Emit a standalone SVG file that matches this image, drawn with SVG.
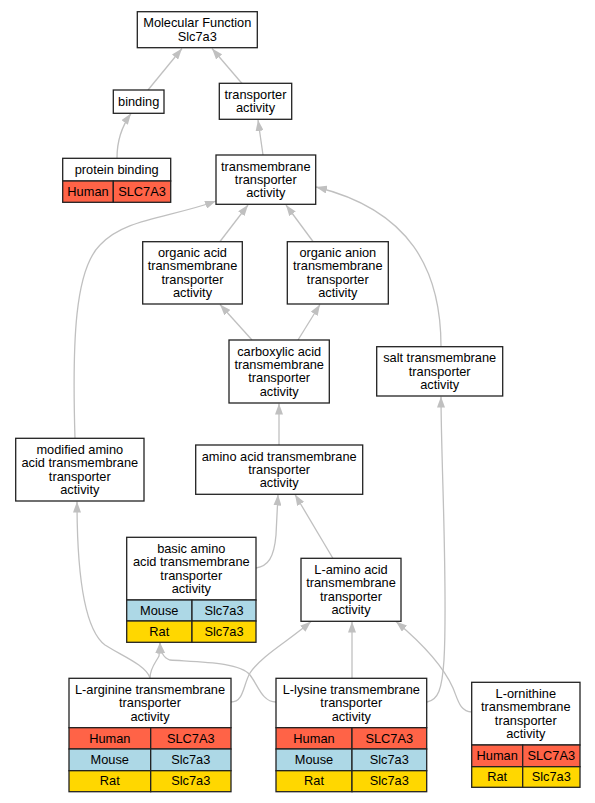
<svg xmlns="http://www.w3.org/2000/svg" width="595" height="803" viewBox="0 0 595 803">
<style>
.n{fill:#fff;stroke:#222;stroke-width:1.3}
.hu{fill:#ff6347;stroke:#222;stroke-width:1.3}
.mo{fill:#add8e6;stroke:#222;stroke-width:1.3}
.ra{fill:#ffd700;stroke:#222;stroke-width:1.3}
text{font-family:"Liberation Sans",Arial,sans-serif;font-size:12.8px;fill:#000;text-anchor:middle}
.e{fill:none;stroke:#c0c0c0;stroke-width:1.3;marker-end:url(#ah)}
</style>
<defs>
<marker id="ah" markerUnits="userSpaceOnUse" markerWidth="11" markerHeight="8" refX="11" refY="4" orient="auto" viewBox="0 0 11 8">
<path d="M0,0 L11,4 L0,8 z" fill="#c0c0c0"/>
</marker>
</defs>
<rect width="595" height="803" fill="#fff"/>
<g id="edges">
<path class="e" d="M148,90 L182,48.5"/>
<path class="e" d="M242,83.5 L212,48.5"/>
<path class="e" d="M117,158 C117,140 122,126 131,113.5"/>
<path class="e" d="M263,155 L258,120"/>
<path class="e" d="M220,241.5 L248,205"/>
<path class="e" d="M313,241.5 L286,205"/>
<path class="e" d="M252,340 L220,304.5"/>
<path class="e" d="M298,340 L320,304.5"/>
<path class="e" d="M441,346.5 C441,270 410,210 316,187"/>
<path class="e" d="M75,438.5 C72,340 75,270 100,245 C125,218 170,218 216,201"/>
<path class="e" d="M279,445 L279,403.5"/>
<path class="e" d="M256,568 C268,566 274,558 276,535 L278,494.5"/>
<path class="e" d="M333,558.5 L295,494.5"/>
<path class="e" d="M427,702 C438,700 442,690 444,660 C448,590 441,460 441,396.5"/>
<path class="e" d="M472,712 C460,712 458,700 453,688 C445,670 430,650 396,621.5"/>
<path class="e" d="M352,678.3 L352,621.5"/>
<path class="e" d="M231,702 C244,702 243,685 250,673 C262,655 290,640 311,621.5"/>
<path class="e" d="M150,678 C150,668 156,662 159,656 L160,642.5"/>
<path class="e" d="M276,702 C262,702 258,685 250,675 C240,662 200,662 170,660 C163,658 161,652 160,642.5"/>
<path class="e" d="M150,678 C146,665 120,655 105,645 C85,630 77,580 77,501.5"/>
</g>
<g id="mf">
<rect class="n" x="137.3" y="11.7" width="120" height="36"/>
<text x="197.3" y="27.25">Molecular Function</text>
<text x="197.3" y="40.55">Slc7a3</text>
</g>
<g id="binding">
<rect class="n" x="113.3" y="90" width="50.7" height="23.3"/>
<text x="138.7" y="105.9">binding</text>
</g>
<g id="transporter">
<rect class="n" x="219.3" y="83.3" width="72.4" height="36"/>
<text x="255.5" y="99.05">transporter</text>
<text x="255.5" y="112.35">activity</text>
</g>
<g id="protein_binding">
<rect class="n" x="62.7" y="158.3" width="108" height="22.7"/>
<rect class="hu" x="62.7" y="181" width="50.6" height="21.3"/>
<rect class="hu" x="113.3" y="181" width="57.4" height="21.3"/>
<text x="116.7" y="173.85">protein binding</text>
<text x="88" y="195.85">Human</text>
<text x="142" y="195.85">SLC7A3</text>
</g>
<g id="tmta">
<rect class="n" x="216" y="155" width="99.7" height="49.3"/>
<text x="265.8" y="170.55">transmembrane</text>
<text x="265.8" y="183.85">transporter</text>
<text x="265.8" y="197.15">activity</text>
</g>
<g id="organic_acid">
<rect class="n" x="142.7" y="241.7" width="99.6" height="62.3"/>
<text x="192.5" y="257.1">organic acid</text>
<text x="192.5" y="270.4">transmembrane</text>
<text x="192.5" y="283.7">transporter</text>
<text x="192.5" y="297">activity</text>
</g>
<g id="organic_anion">
<rect class="n" x="287.3" y="241.7" width="101" height="62.3"/>
<text x="337.8" y="257.1">organic anion</text>
<text x="337.8" y="270.4">transmembrane</text>
<text x="337.8" y="283.7">transporter</text>
<text x="337.8" y="297">activity</text>
</g>
<g id="carboxylic">
<rect class="n" x="229" y="340" width="100.3" height="63"/>
<text x="279.2" y="355.75">carboxylic acid</text>
<text x="279.2" y="369.05">transmembrane</text>
<text x="279.2" y="382.35">transporter</text>
<text x="279.2" y="395.65">activity</text>
</g>
<g id="salt">
<rect class="n" x="376.7" y="346.7" width="126" height="49.3"/>
<text x="439.7" y="362.25">salt transmembrane</text>
<text x="439.7" y="375.55">transporter</text>
<text x="439.7" y="388.85">activity</text>
</g>
<g id="modified">
<rect class="n" x="15.7" y="438.3" width="128.3" height="62.7"/>
<text x="79.8" y="453.9">modified amino</text>
<text x="79.8" y="467.2">acid transmembrane</text>
<text x="79.8" y="480.5">transporter</text>
<text x="79.8" y="493.8">activity</text>
</g>
<g id="amino_acid">
<rect class="n" x="195.7" y="445" width="167" height="49.3"/>
<text x="279.2" y="460.55">amino acid transmembrane</text>
<text x="279.2" y="473.85">transporter</text>
<text x="279.2" y="487.15">activity</text>
</g>
<g id="basic">
<rect class="n" x="126.7" y="537.3" width="129.3" height="62.7"/>
<rect class="mo" x="126.7" y="600" width="65.3" height="21"/>
<rect class="mo" x="192" y="600" width="64" height="21"/>
<rect class="ra" x="126.7" y="621" width="65.3" height="21.3"/>
<rect class="ra" x="192" y="621" width="64" height="21.3"/>
<text x="191.3" y="552.9">basic amino</text>
<text x="191.3" y="566.2">acid transmembrane</text>
<text x="191.3" y="579.5">transporter</text>
<text x="191.3" y="592.8">activity</text>
<text x="159.3" y="614.7">Mouse</text>
<text x="224" y="614.7">Slc7a3</text>
<text x="159.3" y="635.85">Rat</text>
<text x="224" y="635.85">Slc7a3</text>
</g>
<g id="l_amino">
<rect class="n" x="301" y="558.3" width="100" height="63"/>
<text x="351" y="574.05">L-amino acid</text>
<text x="351" y="587.35">transmembrane</text>
<text x="351" y="600.65">transporter</text>
<text x="351" y="613.95">activity</text>
</g>
<g id="l_arginine">
<rect class="n" x="69" y="678.3" width="162" height="49.4"/>
<rect class="hu" x="69" y="727.7" width="81.7" height="21.3"/>
<rect class="hu" x="150.7" y="727.7" width="80.3" height="21.3"/>
<rect class="mo" x="69" y="749" width="81.7" height="21.7"/>
<rect class="mo" x="150.7" y="749" width="80.3" height="21.7"/>
<rect class="ra" x="69" y="770.7" width="81.7" height="21"/>
<rect class="ra" x="150.7" y="770.7" width="80.3" height="21"/>
<text x="150" y="693.9">L-arginine transmembrane</text>
<text x="150" y="707.2">transporter</text>
<text x="150" y="720.5">activity</text>
<text x="109.8" y="742.55">Human</text>
<text x="190.8" y="742.55">SLC7A3</text>
<text x="109.8" y="764.05">Mouse</text>
<text x="190.8" y="764.05">Slc7a3</text>
<text x="109.8" y="785.4">Rat</text>
<text x="190.8" y="785.4">Slc7a3</text>
</g>
<g id="l_lysine">
<rect class="n" x="276" y="678.3" width="150.7" height="49.4"/>
<rect class="hu" x="276" y="727.7" width="76" height="21.3"/>
<rect class="hu" x="352" y="727.7" width="74.7" height="21.3"/>
<rect class="mo" x="276" y="749" width="76" height="21.7"/>
<rect class="mo" x="352" y="749" width="74.7" height="21.7"/>
<rect class="ra" x="276" y="770.7" width="76" height="21"/>
<rect class="ra" x="352" y="770.7" width="74.7" height="21"/>
<text x="351.3" y="693.9">L-lysine transmembrane</text>
<text x="351.3" y="707.2">transporter</text>
<text x="351.3" y="720.5">activity</text>
<text x="314" y="742.55">Human</text>
<text x="389.3" y="742.55">SLC7A3</text>
<text x="314" y="764.05">Mouse</text>
<text x="389.3" y="764.05">Slc7a3</text>
<text x="314" y="785.4">Rat</text>
<text x="389.3" y="785.4">Slc7a3</text>
</g>
<g id="l_ornithine">
<rect class="n" x="471.7" y="682.3" width="108.3" height="62.7"/>
<rect class="hu" x="471.7" y="745" width="51" height="21.7"/>
<rect class="hu" x="522.7" y="745" width="57.3" height="21.7"/>
<rect class="ra" x="471.7" y="766.7" width="51" height="20.6"/>
<rect class="ra" x="522.7" y="766.7" width="57.3" height="20.6"/>
<text x="525.8" y="697.9">L-ornithine</text>
<text x="525.8" y="711.2">transmembrane</text>
<text x="525.8" y="724.5">transporter</text>
<text x="525.8" y="737.8">activity</text>
<text x="497.2" y="760.05">Human</text>
<text x="551.3" y="760.05">SLC7A3</text>
<text x="497.2" y="781.2">Rat</text>
<text x="551.3" y="781.2">Slc7a3</text>
</g>
</svg>
